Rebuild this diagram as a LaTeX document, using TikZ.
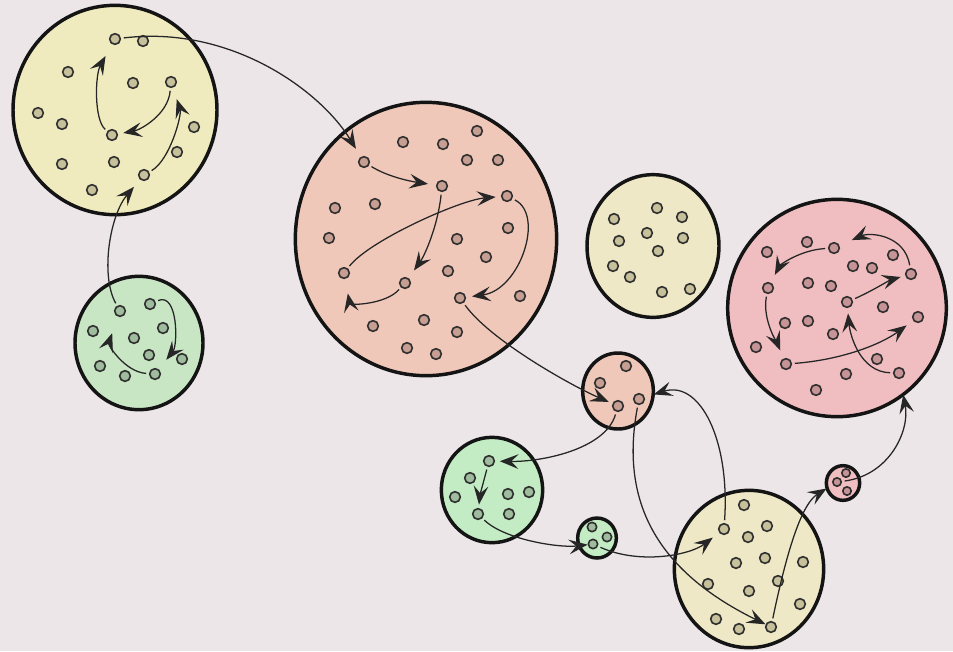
\documentclass[tikz,border=0pt]{standalone}
\usetikzlibrary{shapes.geometric,arrows.meta}
\definecolor{bg}{RGB}{236,230,232}
\definecolor{cyel}{RGB}{240,235,190}
\definecolor{cyelb}{RGB}{238,232,198}
\definecolor{csal}{RGB}{240,200,186}
\definecolor{cpink}{RGB}{240,190,192}
\definecolor{cgrn}{RGB}{200,230,196}
\definecolor{cgrnb}{RGB}{196,236,196}
\definecolor{dyel}{RGB}{198,192,155}
\definecolor{dsal}{RGB}{198,158,146}
\definecolor{dpink}{RGB}{198,148,150}
\definecolor{dgrn}{RGB}{160,188,158}
\begin{document}
\begin{tikzpicture}[x=0.75pt,y=-0.75pt,
  blob/.style={ellipse, draw=black!92, line width=2.6pt, inner sep=0pt},
  dotnode/.style={circle, draw=black!82, line width=1.2pt, inner sep=0pt, minimum size=8pt},
  ydot/.style={dotnode, fill=dyel},
  rdot/.style={dotnode, fill=dsal},
  pdot/.style={dotnode, fill=dpink},
  gdot/.style={dotnode, fill=dgrn},
  link/.style={draw=black!85, line width=0.95pt, -{Stealth[length=14pt,width=11pt,inset=5.5pt]}, shorten <=2pt}]
\fill[bg] (0,0) rectangle (953,651);
\useasboundingbox (0,0) rectangle (953,651);

% big blobs
\node[blob, fill=cyel, minimum width=153pt, minimum height=157pt] (Y1) at (115,110) {};
\node[blob, fill=cgrn, minimum width=96pt, minimum height=100pt] (G1) at (139,343) {};
\node[blob, fill=csal, minimum width=196pt, minimum height=205pt] (R1) at (426,239) {};
\node[blob, fill=cyelb, minimum width=99pt, minimum height=107pt] (Y2) at (653,246) {};
\node[blob, fill=cpink, minimum width=164pt, minimum height=163pt] (P1) at (837,308) {};
\node[blob, fill=csal, minimum width=53pt, minimum height=57pt] (S1) at (618,391) {};
\node[blob, fill=cgrnb, minimum width=76pt, minimum height=79pt] (G2) at (492,490) {};
\node[blob, fill=cgrnb, minimum width=29pt, minimum height=30pt] (G3) at (597,538) {};
\node[blob, fill=cyelb, minimum width=112pt, minimum height=118pt] (Y3) at (749,569) {};
\node[blob, fill=cpink, minimum width=25pt, minimum height=26pt] (SP) at (843,483) {};

% dots
\foreach \n/\x/\y in {a/115/39, b/143/41, c/68/72, d/133/83, e/171/82, f/38/113, g/62/124, h/112/135, i/194/127, j/177/152, k/62/164, l/114/162, m/144/175, n/92/190}
  \node[ydot] (y1\n) at (\x,\y) {};
\foreach \n/\x/\y in {a/120/311, b/150/304, c/93/331, d/163/328, e/134/338, f/149/355, g/182/359, h/100/366, i/125/376, j/155/374}
  \node[gdot] (g1\n) at (\x,\y) {};
\foreach \n/\x/\y in {a/403/142, b/443/144, c/477/131, d/467/160, e/498/160, f/364/162, g/442/186, h/507/196, i/335/208, j/375/204, k/329/238, l/508/228, m/457/239, n/486/257, o/448/271, p/344/273, q/405/283, r/460/298, s/520/296, t/373/326, u/424/320, v/457/332, w/407/348, x/436/354}
  \node[rdot] (r\n) at (\x,\y) {};
\foreach \n/\x/\y in {a/657/208, b/614/219, c/682/217, d/647/233, e/619/241, f/683/238, g/658/251, h/613/266, i/630/277, j/662/292, k/690/289}
  \node[ydot] (y2\n) at (\x,\y) {};
\foreach \n/\x/\y in {a/807/242, b/767/252, c/834/248, d/893/255, e/853/266, f/872/268, g/911/274, h/768/288, i/808/283, j/831/286, k/847/302, l/883/307, m/785/323, n/808/321, o/833/334, p/918/317, q/756/347, r/786/364, s/877/359, t/846/374, u/899/373, v/816/390}
  \node[pdot] (p\n) at (\x,\y) {};
\foreach \n/\x/\y in {a/626/366, b/600/383, c/639/399, d/618/406}
  \node[rdot] (s\n) at (\x,\y) {};
\foreach \n/\x/\y in {a/489/461, b/470/478, c/455/497, d/508/494, e/529/492, f/478/514, g/509/514}
  \node[gdot] (g2\n) at (\x,\y) {};
\foreach \n/\x/\y in {a/592/527, b/607/537, c/593/544}
  \node[gdot, minimum size=7pt] (g3\n) at (\x,\y) {};
\foreach \n/\x/\y in {a/744/505, b/724/529, c/767/526, d/748/537, e/765/558, f/736/563, g/803/562, h/778/581, i/708/584, j/749/591, k/800/604, l/716/619, m/739/629, n/771/627}
  \node[ydot] (y3\n) at (\x,\y) {};
\foreach \n/\x/\y in {a/846/473, b/837/482, c/847/491}
  \node[pdot, minimum size=6.3pt] (sp\n) at (\x,\y) {};

% connectors: yellow 1
\draw[link, shorten >=10pt] (y1h) .. controls (94,120) and (95,75) .. (y1a);
\draw[link, shorten >=4pt] (y1e) .. controls (168,115) and (140,130) .. (y1h);
\draw[link, shorten >=9pt] (y1m) .. controls (170,160) and (182,115) .. (y1e);
\draw[link, shorten >=7pt] (g1a) .. controls (100,275) and (110,215) .. (y1m);
\draw[link, shorten >=7pt] (y1a) .. controls (230,25) and (320,90) .. (rf);
% green 1
\draw[link, shorten >=13pt] (g1j) .. controls (125,372) and (108,345) .. (g1a);
\draw[link, shorten >=9pt] (g1b) .. controls (178,292) and (178,345) .. (g1j);
% big salmon
\draw[link, shorten >=6pt] (rf) .. controls (390,178) and (415,182) .. (rg);
\draw[link, shorten >=7pt] (rg) .. controls (438,225) and (425,255) .. (rq);
\draw[link, shorten >=4pt] (rp) .. controls (370,240) and (460,200) .. (rh);
\draw[link, shorten >=11pt] (rq) .. controls (385,305) and (350,305) .. (rp);
\draw[link, shorten >=4.5pt] (rh) .. controls (545,215) and (520,290) .. (rr);
\draw[link, shorten >=3pt] (rr) .. controls (490,340) and (570,385) .. (sd);
% pink big
\draw[link, shorten >=10pt] (pg) .. controls (905,235) and (870,232) .. (pc);
\draw[link, shorten >=6.5pt] (pc) .. controls (800,250) and (780,265) .. (ph);
\draw[link, shorten >=6.5pt] (ph) .. controls (762,320) and (778,345) .. (pr);
\draw[link, shorten >=6pt] (pr) .. controls (840,360) and (880,345) .. (pp);
\draw[link, shorten >=4pt] (pu) .. controls (860,372) and (850,335) .. (pk);
\draw[link, shorten >=3.5pt] (pk) .. controls (870,292) and (890,280) .. (pg);
% small ones
\draw[link, shorten >=12pt] (spb) .. controls (890,475) and (910,430) .. (pu);
\draw[link, shorten >=7pt] (y3b) .. controls (730,440) and (700,380) .. (sc);
\draw[link, shorten >=3.5pt] (sd) .. controls (605,450) and (540,462) .. (g2a);
\draw[link, shorten >=2.5pt] (g2a) .. controls (484,480) and (480,495) .. (g2f);
\draw[link, shorten >=0pt] (g2f) .. controls (505,540) and (560,548) .. (g3c);
\draw[link, shorten >=6pt] (g3c) .. controls (640,565) and (690,555) .. (y3b);
\draw[link, shorten >=0pt] (sc) .. controls (620,500) and (655,570) .. (y3n);
\draw[link, shorten >=5.5pt] (y3n) .. controls (785,560) and (800,505) .. (spb);
\end{tikzpicture}
\end{document}
